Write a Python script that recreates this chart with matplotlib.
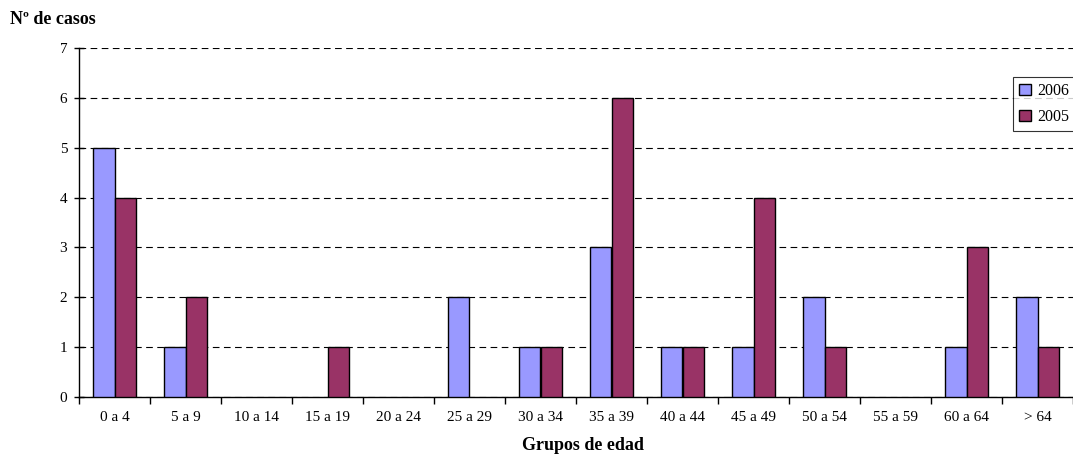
import matplotlib
matplotlib.use("Agg")
import matplotlib.pyplot as plt
import numpy as np

categories = ["0 a 4", "5 a 9", "10 a 14", "15 a 19", "20 a 24", "25 a 29", "30 a 34",
              "35 a 39", "40 a 44", "45 a 49", "50 a 54", "55 a 59", "60 a 64", "> 64"]
s2006 = [5, 1, 0, 0, 0, 2, 1, 3, 1, 1, 2, 0, 1, 2]
s2005 = [4, 2, 0, 1, 0, 0, 1, 6, 1, 4, 1, 0, 3, 1]

plt.rcParams['font.family'] = ['Liberation Serif', 'DejaVu Serif']

fig = plt.figure(figsize=(10.73, 4.54), dpi=100)
ax = fig.add_axes([79/1073, 1-397/454, 1-79/1073, (397-48)/454])

x = np.arange(len(categories))
w = 0.3
b1 = ax.bar(x - w/2, s2006, w, color='#9999FF', edgecolor='black', linewidth=1, label='2006', zorder=3)
b2 = ax.bar(x + w/2, s2005, w, color='#993366', edgecolor='black', linewidth=1, label='2005', zorder=3)
for bars in (b1, b2):
    for r in bars:
        if r.get_height() == 0:
            r.set_linewidth(0)

ax.set_xlim(-0.5, len(categories) - 0.5)
ax.set_ylim(0, 7)
ax.set_yticks(range(0, 8))
ax.yaxis.grid(True, linestyle=(0, (6, 4)), color='black', linewidth=0.8, zorder=0)
ax.set_axisbelow(True)

ax.set_xticks(x)
ax.set_xticklabels(categories, fontsize=11)
ax.set_xticks(np.arange(-0.5, len(categories), 1), minor=True)
ax.tick_params(axis='x', which='major', length=0, pad=10)
ax.tick_params(axis='x', which='minor', length=5, direction='out', width=1)
ax.tick_params(axis='y', labelsize=11, length=7, direction='inout', width=1, pad=5)

for s in ['top', 'right']:
    ax.spines[s].set_visible(False)
for s in ['left', 'bottom']:
    ax.spines[s].set_linewidth(1)
    ax.spines[s].set_color('black')

fig.text(10/1073, 1-20/454, "Nº de casos", fontsize=13, fontweight='bold', va='center', ha='left')
fig.text(583/1073, 1-445/454, "Grupos de edad", fontsize=13, fontweight='bold', va='center', ha='center')

leg = fig.legend(handles=[b1, b2], labels=['2006', '2005'], loc='upper left',
                 bbox_to_anchor=(1013/1073, 1-77/454), frameon=True, fancybox=False,
                 edgecolor='black', fontsize=11.5, handlelength=0.7, handleheight=0.7,
                 handletextpad=0.4, borderpad=0.4, labelspacing=0.6, borderaxespad=0)
leg.get_frame().set_linewidth(0.8)

fig.savefig("out.png", dpi=100)
